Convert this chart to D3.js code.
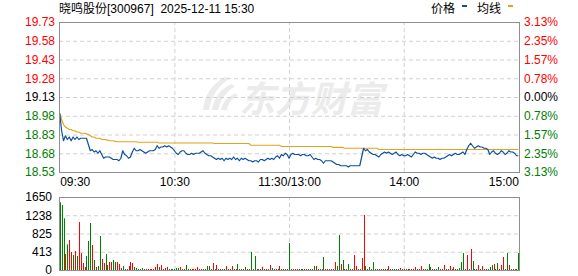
<!DOCTYPE html>
<html>
<head>
<meta charset="utf-8">
<script src="https://cdn.jsdelivr.net/npm/d3@7/dist/d3.min.js"></script>
<style>
  body { margin: 0; background: #fff; }
  svg { display: block; }
  text { font-family: "Liberation Sans", Arial, "Noto Sans CJK SC", sans-serif; }
</style>
</head>
<body>
<script>
/* intraday data, one value per minute from 09:30 to 15:00 (11:30 and 13:00 share a slot) */
const stockName = "晓鸣股份[300967]  2025-12-11 15:30";
const preClose = 19.13;
const priceTicks = [19.73, 19.58, 19.43, 19.28, 19.13, 18.98, 18.83, 18.68, 18.53];
const pctTicks = ["3.13%", "2.35%", "1.57%", "0.78%", "0.00%", "0.78%", "1.57%", "2.35%", "3.13%"];
const volTicks = [1650, 1238, 825, 413, 0];
const timeIdx = [0, 60, 120, 180, 240];
const timeLabels = ["09:30", "10:30", "11:30/13:00", "14:00", "15:00"];

const price = [
  19.00, 18.86, 18.78, 18.82, 18.79, 18.81, 18.78, 18.81, 18.79, 18.81,
  18.79, 18.80, 18.80, 18.80, 18.80, 18.75, 18.70, 18.71, 18.69, 18.70,
  18.68, 18.70, 18.67, 18.64, 18.65, 18.65, 18.65, 18.64, 18.63, 18.63,
  18.63, 18.62, 18.64, 18.70, 18.67, 18.66, 18.64, 18.65, 18.69, 18.72,
  18.70, 18.70, 18.71, 18.70, 18.69, 18.68, 18.69, 18.70, 18.70, 18.70,
  18.71, 18.74, 18.72, 18.73, 18.73, 18.74, 18.73, 18.74, 18.73, 18.72,
  18.70, 18.68, 18.67, 18.69, 18.70, 18.70, 18.68, 18.67, 18.67, 18.68,
  18.67, 18.68, 18.68, 18.68, 18.69, 18.70, 18.68, 18.67, 18.66, 18.66,
  18.65, 18.64, 18.63, 18.64, 18.63, 18.64, 18.62, 18.64, 18.63, 18.64,
  18.63, 18.65, 18.63, 18.64, 18.62, 18.64, 18.63, 18.64, 18.63, 18.62,
  18.62, 18.61, 18.62, 18.62, 18.61, 18.63, 18.63, 18.62, 18.63, 18.64,
  18.63, 18.64, 18.63, 18.65, 18.66, 18.64, 18.67, 18.66, 18.68, 18.67,
  18.64, 18.67, 18.68, 18.67, 18.67, 18.67, 18.66, 18.67, 18.67, 18.66,
  18.66, 18.67, 18.65, 18.63, 18.64, 18.63, 18.63, 18.62, 18.60, 18.62,
  18.62, 18.62, 18.62, 18.61, 18.60, 18.59, 18.59, 18.58, 18.58, 18.58,
  18.58, 18.57, 18.58, 18.58, 18.58, 18.58, 18.58, 18.58, 18.65, 18.72,
  18.70, 18.71, 18.69, 18.68, 18.67, 18.67, 18.66, 18.65, 18.67, 18.68,
  18.69, 18.68, 18.69, 18.68, 18.67, 18.68, 18.69, 18.67, 18.66, 18.67,
  18.66, 18.66, 18.67, 18.66, 18.65, 18.67, 18.69, 18.68, 18.68, 18.67,
  18.68, 18.68, 18.67, 18.66, 18.65, 18.64, 18.65, 18.64, 18.64, 18.63,
  18.64, 18.64, 18.65, 18.66, 18.67, 18.66, 18.67, 18.68, 18.67, 18.67,
  18.68, 18.69, 18.67, 18.71, 18.74, 18.76, 18.74, 18.72, 18.73, 18.74,
  18.73, 18.73, 18.72, 18.72, 18.71, 18.67, 18.69, 18.70, 18.68, 18.67,
  18.68, 18.70, 18.69, 18.67, 18.68, 18.70, 18.69, 18.69, 18.68, 18.66, 18.66
];

const avgPrice = [
  19.000, 18.950, 18.910, 18.890, 18.880, 18.870, 18.870, 18.860, 18.860, 18.850,
  18.850, 18.840, 18.840, 18.840, 18.835, 18.830, 18.820, 18.810, 18.810, 18.800,
  18.800, 18.800, 18.790, 18.790, 18.790, 18.785, 18.780, 18.780, 18.780, 18.775,
  18.772, 18.772, 18.772, 18.772, 18.772, 18.772, 18.772, 18.772, 18.772, 18.772,
  18.772, 18.768, 18.768, 18.768, 18.768, 18.768, 18.768, 18.768, 18.768, 18.768,
  18.768, 18.768, 18.762, 18.762, 18.762, 18.762, 18.762, 18.762, 18.762, 18.762,
  18.762, 18.762, 18.762, 18.762, 18.762, 18.762, 18.762, 18.762, 18.762, 18.762,
  18.762, 18.762, 18.762, 18.762, 18.762, 18.762, 18.762, 18.762, 18.762, 18.762,
  18.762, 18.758, 18.758, 18.758, 18.758, 18.758, 18.758, 18.758, 18.758, 18.758,
  18.758, 18.758, 18.758, 18.758, 18.758, 18.758, 18.758, 18.758, 18.758, 18.758,
  18.744, 18.744, 18.744, 18.744, 18.744, 18.744, 18.744, 18.744, 18.744, 18.744,
  18.744, 18.744, 18.744, 18.744, 18.744, 18.744, 18.734, 18.734, 18.734, 18.734,
  18.734, 18.734, 18.734, 18.734, 18.734, 18.734, 18.734, 18.734, 18.734, 18.734,
  18.734, 18.734, 18.734, 18.734, 18.734, 18.734, 18.734, 18.734, 18.734, 18.734,
  18.734, 18.734, 18.734, 18.727, 18.727, 18.727, 18.727, 18.727, 18.727, 18.720,
  18.720, 18.720, 18.720, 18.720, 18.720, 18.720, 18.720, 18.720, 18.720, 18.720,
  18.720, 18.720, 18.720, 18.720, 18.720, 18.720, 18.720, 18.710, 18.710, 18.710,
  18.710, 18.710, 18.710, 18.710, 18.710, 18.710, 18.710, 18.710, 18.710, 18.710,
  18.710, 18.710, 18.710, 18.710, 18.710, 18.710, 18.710, 18.710, 18.710, 18.710,
  18.710, 18.710, 18.710, 18.710, 18.710, 18.710, 18.710, 18.710, 18.710, 18.710,
  18.710, 18.710, 18.710, 18.710, 18.710, 18.710, 18.710, 18.710, 18.710, 18.710,
  18.710, 18.710, 18.710, 18.710, 18.710, 18.710, 18.710, 18.710, 18.710, 18.710,
  18.710, 18.710, 18.710, 18.710, 18.710, 18.710, 18.710, 18.710, 18.710, 18.710,
  18.710, 18.710, 18.710, 18.710, 18.710, 18.710, 18.710, 18.710, 18.710, 18.710, 18.710
];

const volume = [
  1530, 1469, 1168, 362, 580, 678, 407, 339, 430, 316,
  1085, 384, 158, 68, 316, 655, 1062, 565, 226, 68,
  90, 768, 249, 158, 362, 113, 181, 181, 226, 181,
  181, 136, 45, 90, 23, 23, 90, 181, 158, 68,
  45, 23, 23, 45, 23, 23, 23, 23, 23, 23,
  68, 136, 68, 113, 23, 45, 68, 23, 23, 23,
  23, 45, 45, 68, 23, 23, 113, 23, 23, 23,
  23, 23, 68, 23, 23, 23, 23, 90, 90, 23,
  158, 23, 113, 23, 23, 23, 23, 90, 23, 23,
  90, 23, 23, 136, 23, 23, 23, 68, 23, 23,
  407, 23, 316, 23, 23, 23, 68, 23, 23, 23,
  113, 45, 23, 23, 23, 90, 23, 23, 23, 23,
  610, 23, 23, 23, 23, 23, 23, 23, 23, 23,
  23, 23, 23, 90, 90, 23, 23, 23, 294, 23,
  23, 23, 23, 23, 181, 90, 791, 136, 226, 23,
  23, 136, 23, 23, 339, 90, 23, 23, 271, 1243,
  90, 23, 68, 23, 181, 23, 23, 23, 23, 23,
  23, 23, 90, 23, 23, 23, 23, 23, 45, 23,
  23, 23, 23, 23, 23, 23, 68, 23, 23, 90,
  23, 23, 23, 136, 68, 23, 23, 23, 68, 23,
  23, 113, 23, 23, 90, 23, 68, 23, 23, 45,
  181, 384, 23, 339, 23, 475, 203, 23, 23, 113,
  23, 90, 23, 23, 23, 68, 113, 136, 23, 158,
  23, 113, 294, 23, 384, 113, 23, 23, 23, 23, 384
];

// 1 = minute closed up (red bar), 0 = down (green bar)
const volUp = [
  0, 0, 0, 1, 0, 1, 1, 0, 1, 0,
  1, 1, 1, 1, 0, 0, 0, 1, 0, 1,
  0, 0, 1, 1, 0, 0, 1, 1, 0, 0,
  1, 1, 1, 0, 0, 0, 1, 1, 1, 0,
  0, 0, 0, 0, 1, 1, 1, 1, 1, 1,
  1, 1, 0, 1, 1, 1, 1, 0, 0, 0,
  0, 0, 0, 1, 1, 0, 0, 0, 1, 1,
  1, 1, 1, 1, 1, 1, 0, 0, 0, 0,
  1, 0, 1, 1, 0, 1, 0, 1, 0, 1,
  1, 0, 1, 0, 0, 1, 0, 0, 1, 0,
  0, 0, 0, 1, 0, 1, 1, 0, 1, 0,
  1, 0, 1, 1, 0, 1, 0, 1, 1, 0,
  0, 0, 1, 0, 1, 1, 0, 0, 1, 0,
  1, 0, 0, 0, 1, 0, 0, 1, 0, 1,
  1, 0, 1, 0, 1, 0, 0, 1, 0, 0,
  1, 0, 0, 1, 1, 1, 0, 1, 1, 1,
  0, 0, 0, 1, 0, 0, 0, 1, 0, 1,
  1, 0, 1, 0, 1, 0, 0, 1, 1, 0,
  1, 0, 1, 1, 0, 1, 1, 0, 1, 1,
  0, 1, 0, 0, 0, 1, 0, 0, 0, 1,
  1, 1, 0, 1, 1, 0, 1, 0, 1, 0,
  0, 0, 1, 1, 0, 1, 0, 0, 1, 1,
  0, 1, 0, 1, 0, 0, 0, 1, 0, 0,
  1, 1, 1, 0, 0, 1, 0, 1, 0, 0, 0
];

const W = 578, H = 276;
const left = 59, right = 519;
const pTop = 22, pBottom = 172;
const vTop = 197, vBottom = 270;

const red = "#ff0000", green = "#008000", dark = "#000000";
const gridColor = "#d0d0d0", borderColor = "#8f8f8f";

const svg = d3.select("body").append("svg")
    .attr("width", W)
    .attr("height", H);

const x = d3.scaleLinear().domain([0, 240]).range([59.7, 518.4]);
const y = d3.scaleLinear().domain([18.53, 19.73]).range([pBottom, pTop]);
const yv = d3.scaleLinear().domain([0, 1650]).range([vBottom, vTop]);

function tickColor(v) {
  if (Math.abs(v - preClose) < 0.001) return dark;
  return v > preClose ? red : green;
}

// watermark
const wm = svg.append("g").attr("fill", "#ebebeb");
wm.append("path").attr("d", "M203,110 Q205,88 225,77 L230,78 Q212,90 209,110 Z");
wm.append("path").attr("d", "M212,110 Q214,93 231,84 L235,86 Q221,95 218,110 Z");
wm.append("path").attr("d", "M221,110 Q223,99 236,93 L237,96 Q228,101 227,110 Z");
wm.append("text")
    .attr("x", 239)
    .attr("y", 112)
    .attr("font-size", "36px")
    .attr("font-weight", "bold")
    .attr("font-style", "italic")
    .style("font-family", "'Noto Sans CJK SC', sans-serif")
    .text("东方财富");

// title + legend
svg.append("text")
    .attr("x", 59)
    .attr("y", 13)
    .attr("font-size", "12px")
    .attr("fill", "#000")
    .style("white-space", "pre")
    .text(stockName);

svg.append("text").attr("x", 431).attr("y", 13).attr("font-size", "12px").text("价格");
svg.append("rect").attr("x", 462).attr("y", 5).attr("width", 5).attr("height", 2).attr("fill", "#0b4f9f");
svg.append("text").attr("x", 477).attr("y", 13).attr("font-size", "12px").text("均线");
svg.append("rect").attr("x", 508).attr("y", 5).attr("width", 5).attr("height", 2).attr("fill", "#e3a21a");

// grids
function styleGrid(g) {
  g.select(".domain").remove();
  g.selectAll("line").attr("stroke", gridColor).attr("stroke-dasharray", "4,3");
}

svg.append("g")
    .attr("transform", "translate(" + left + ",0)")
    .call(d3.axisLeft(y).tickValues(priceTicks.slice(1, -1)).tickSize(-(right - left)).tickFormat(""))
    .call(styleGrid);

svg.append("g")
    .attr("transform", "translate(0," + pBottom + ")")
    .call(d3.axisBottom(x).tickValues([60, 120, 180]).tickSize(-(pBottom - pTop)).tickFormat(""))
    .call(styleGrid);

svg.append("g")
    .attr("transform", "translate(" + left + ",0)")
    .call(d3.axisLeft(yv).tickValues(volTicks.slice(1, -1)).tickSize(-(right - left)).tickFormat(""))
    .call(styleGrid);

svg.append("g")
    .attr("transform", "translate(0," + vBottom + ")")
    .call(d3.axisBottom(x).tickValues([60, 120, 180]).tickSize(-(vBottom - vTop)).tickFormat(""))
    .call(styleGrid);

// volume bars
svg.append("g")
  .selectAll("rect")
  .data(volume)
  .enter().append("rect")
    .attr("x", (d, i) => Math.round(x(i)))
    .attr("y", d => yv(d))
    .attr("width", 1)
    .attr("height", d => vBottom - yv(d))
    .attr("fill", (d, i) => volUp[i] ? red : green);

// average line and price line
const line = d3.line()
    .x((d, i) => x(i))
    .y(d => y(d));

svg.append("path")
    .datum(avgPrice)
    .attr("fill", "none")
    .attr("stroke", "#e3a21a")
    .attr("stroke-width", 1.2)
    .attr("d", line);

svg.append("path")
    .datum(price)
    .attr("fill", "none")
    .attr("stroke", "#0b4f9f")
    .attr("stroke-width", 1.2)
    .attr("stroke-linejoin", "round")
    .attr("d", line);

// frames
svg.append("rect")
    .attr("x", left + 0.5).attr("y", pTop + 0.5)
    .attr("width", right - left).attr("height", pBottom - pTop)
    .attr("fill", "none").attr("stroke", borderColor);

svg.append("rect")
    .attr("x", left + 0.5).attr("y", vTop + 0.5)
    .attr("width", right - left).attr("height", vBottom - vTop)
    .attr("fill", "none").attr("stroke", borderColor);

// axis labels
function styleLabels(g) {
  g.select(".domain").remove();
  g.selectAll("text").attr("font-size", "12px").style("font-family", "'Liberation Sans', Arial, sans-serif");
}

svg.append("g")
    .attr("transform", "translate(" + left + ",0)")
    .call(d3.axisLeft(y).tickValues(priceTicks).tickSize(0).tickPadding(4).tickFormat(d3.format(".2f")))
    .call(styleLabels)
    .selectAll("text").attr("fill", d => tickColor(d));

svg.append("g")
    .attr("transform", "translate(" + right + ",0)")
    .call(d3.axisRight(y).tickValues(priceTicks).tickSize(0).tickPadding(5).tickFormat((d, i) => pctTicks[i]))
    .call(styleLabels)
    .selectAll("text").attr("fill", d => tickColor(d));

svg.append("g")
    .attr("transform", "translate(" + left + ",0)")
    .call(d3.axisLeft(yv).tickValues(volTicks).tickSize(0).tickPadding(7).tickFormat(d3.format("d")))
    .call(styleLabels)
    .selectAll("text").attr("fill", "#000");

svg.append("g")
    .attr("transform", "translate(0," + pBottom + ")")
    .call(d3.axisBottom(x).tickValues(timeIdx).tickSize(0).tickPadding(5).tickFormat((d, i) => timeLabels[i]))
    .call(styleLabels)
    .selectAll("text")
    .attr("fill", "#000")
    .attr("text-anchor", (d, i) => i === 0 ? "start" : (i === timeIdx.length - 1 ? "end" : "middle"));
</script>
</body>
</html>
